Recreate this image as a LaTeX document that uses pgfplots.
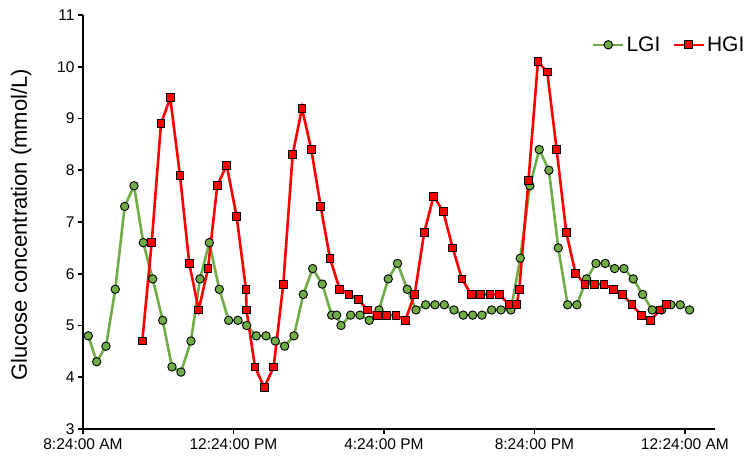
\documentclass[border=0pt]{standalone}
\usepackage{fontspec}
\setmainfont{Liberation Sans}
\usepackage{pgfplots}
\pgfplotsset{compat=1.18}
\definecolor{lgi}{RGB}{112,173,71}
\definecolor{hgi}{RGB}{255,0,0}
\begin{document}
\begin{tikzpicture}
\begin{axis}[
  name=ax,
  scale only axis, width=632pt, height=414pt,
  xmin=0, xmax=16.8, ymin=3, ymax=11,
  axis x line*=bottom, axis y line*=left,
  axis line style={line width=2.2pt, black},
  tick align=outside, major tick length=5pt,
  every tick/.style={black, line width=1.6pt},
  xtick={0,4,8,12,16},
  xticklabels={8:24:00 AM,12:24:00 PM,4:24:00 PM,8:24:00 PM,12:24:00 AM},
  ytick={3,4,...,11},
  /pgf/number format/assume math mode=true,
  ticklabel style={font=\fontsize{15.5}{17}\selectfont},
  xticklabel style={yshift=-1pt},
  ylabel={Glucose concentration (mmol/L)},
  ylabel style={at={(axis description cs:-0.098,0.493)}, anchor=center, font=\fontsize{22}{26}\selectfont},
  clip=false,
  legend columns=2,
  legend style={at={(rel axis cs:0.805,0.928)}, anchor=west, draw=none, fill=none,
    font=\fontsize{21}{24}\selectfont, inner sep=0pt,
    /tikz/every even column/.append style={column sep=10pt}},
  legend cell align=left,
  legend image code/.code={\draw[mark repeat=2,mark phase=2,#1] plot coordinates {(0pt,0pt) (15pt,0pt) (30pt,0pt)};},
]
\addplot[lgi, line width=2.6pt, mark=*, mark size=4.2pt,
  mark options={fill=lgi, draw=black, line width=0.9pt}] coordinates {
(0.141,4.8) (0.364,4.3) (0.611,4.6) (0.858,5.7) (1.108,7.3) (1.356,7.7) (1.603,6.6) (1.853,5.9)
(2.118,5.1) (2.365,4.2) (2.605,4.1) (2.870,4.7) (3.110,5.9) (3.357,6.6) (3.623,5.7) (3.872,5.1)
(4.120,5.1) (4.351,5.0) (4.606,4.8) (4.864,4.8) (5.111,4.7) (5.361,4.6) (5.608,4.8) (5.855,5.6)
(6.105,6.1) (6.360,5.8) (6.610,5.2) (6.743,5.2) (6.857,5.0) (7.115,5.2) (7.362,5.2) (7.609,5.1)
(7.867,5.3) (8.114,5.9) (8.359,6.2) (8.619,5.7) (8.851,5.3) (9.108,5.4) (9.355,5.4) (9.603,5.4)
(9.861,5.3) (10.108,5.2) (10.357,5.2) (10.605,5.2) (10.863,5.3) (11.110,5.3) (11.375,5.3) (11.623,6.3)
(11.880,7.7) (12.128,8.4) (12.385,8.0) (12.633,6.5) (12.883,5.4) (13.130,5.4) (13.387,5.9) (13.635,6.2)
(13.882,6.2) (14.132,6.1) (14.379,6.1) (14.626,5.9) (14.876,5.6) (15.131,5.3) (15.381,5.3) (15.628,5.4)
(15.875,5.4) (16.125,5.3)
};
\addlegendentry{LGI}
\addplot[hgi, line width=2.6pt, mark=square*, mark size=3.9pt,
  mark options={fill=hgi, draw=black, line width=0.9pt}] coordinates {
(1.576,4.7) (1.826,6.6) (2.073,8.9) (2.320,9.4) (2.578,7.9) (2.825,6.2) (3.075,5.3) (3.322,6.1)
(3.569,7.7) (3.819,8.1) (4.085,7.1) (4.332,5.7) (4.346,5.3) (4.571,4.2) (4.819,3.8) (5.068,4.2)
(5.324,5.8) (5.573,8.3) (5.821,9.2) (6.068,8.4) (6.318,7.3) (6.565,6.3) (6.823,5.7) (7.070,5.6)
(7.317,5.5) (7.567,5.3) (7.822,5.2) (8.072,5.2) (8.319,5.2) (8.566,5.1) (8.816,5.6) (9.071,6.8)
(9.321,7.5) (9.576,7.2) (9.826,6.5) (10.073,5.9) (10.320,5.6) (10.570,5.6) (10.817,5.6) (11.065,5.6)
(11.330,5.4) (11.527,5.4) (11.596,5.7) (11.841,7.8) (12.093,10.1) (12.340,9.9) (12.590,8.4) (12.845,6.8)
(13.095,6.0) (13.342,5.8) (13.590,5.8) (13.847,5.8) (14.094,5.7) (14.344,5.6) (14.591,5.4) (14.839,5.2)
(15.089,5.1) (15.336,5.3) (15.514,5.4)
};
\addlegendentry{HGI}
\end{axis}
\path[use as bounding box] ([xshift=-83pt,yshift=-30pt]ax.south west) rectangle ([xshift=33pt,yshift=15pt]ax.north east);
\end{tikzpicture}
\end{document}
